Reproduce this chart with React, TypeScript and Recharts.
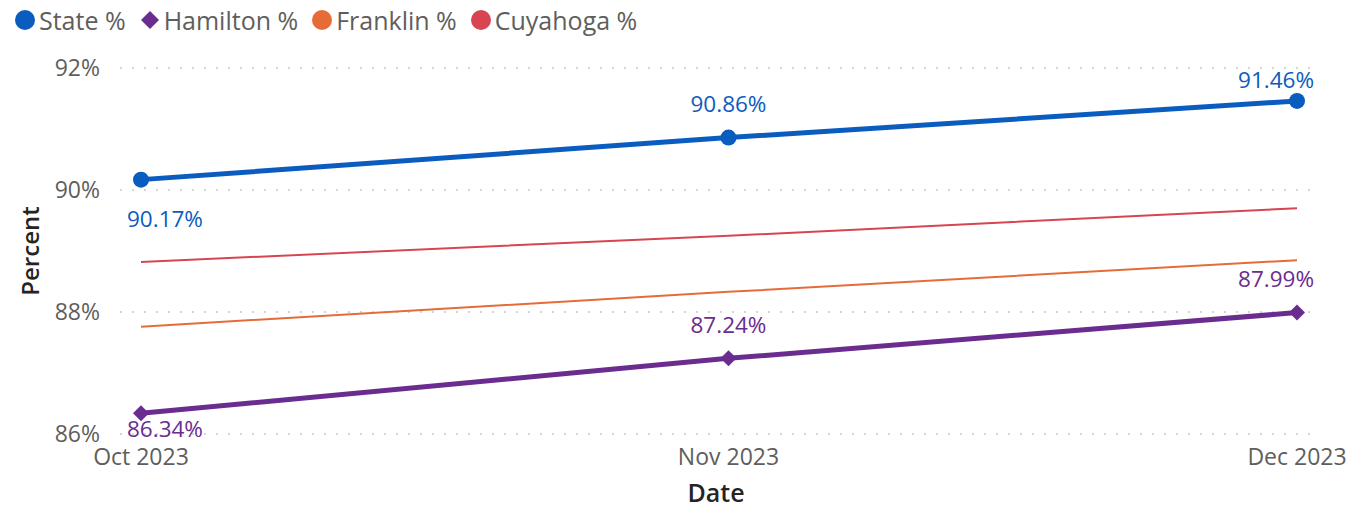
import React from "react";
import { LineChart, Line, XAxis, YAxis, CartesianGrid, LabelList } from "recharts";

const DAY = 86400000;
const dates = [Date.UTC(2023, 9, 1), Date.UTC(2023, 10, 1), Date.UTC(2023, 11, 1)];
const dateLabels = ["Oct 2023", "Nov 2023", "Dec 2023"];
const statePct = [90.17, 90.86, 91.46];
const hamiltonPct = [86.34, 87.24, 87.99];
const franklinPct = [87.76, 88.33, 88.85];
const cuyahogaPct = [88.82, 89.25, 89.7];
const yTicks = [86, 88, 90, 92];

const FONT = "'Segoe UI', 'Open Sans', sans-serif";
const STATE = "#0B5CBF";
const HAMILTON = "#6B2C8F";
const FRANKLIN = "#E66C37";
const CUYAHOGA = "#D64550";

const data = dates.map((d, i) => ({
  date: d,
  state: statePct[i],
  hamilton: hamiltonPct[i],
  franklin: franklinPct[i],
  cuyahoga: cuyahogaPct[i],
}));

const fmt = (v: number) => `${v.toFixed(2)}%`;

// label placement mimics Power BI: first point below, clamped to plot edges
const makeLabel = (color: string, firstDy: number) => (props: any) => {
  const { x, y, value, index } = props;
  const last = index === dates.length - 1;
  const anchor = index === 0 ? "start" : last ? "end" : "middle";
  const lx = index === 0 ? x - 14 : last ? x + 17 : x;
  const ly = index === 0 ? y + firstDy : Math.max(y - 33, 80);
  return (
    <text x={lx} y={ly} dy="0.35em" textAnchor={anchor} fill={color} fontSize={22.5} fontFamily={FONT}>
      {fmt(value)}
    </text>
  );
};

const Diamond = (props: any) => {
  const { cx, cy, fill, r = 8 } = props;
  if (cx == null || cy == null) return null;
  return <polygon points={`${cx},${cy - r} ${cx + r},${cy} ${cx},${cy + r} ${cx - r},${cy}`} fill={fill} />;
};

const legendItems = [
  { name: "State %", color: STATE, shape: "circle" },
  { name: "Hamilton %", color: HAMILTON, shape: "diamond" },
  { name: "Franklin %", color: FRANKLIN, shape: "circle" },
  { name: "Cuyahoga %", color: CUYAHOGA, shape: "circle" },
];

export default function App() {
  return (
    <div style={{ position: "absolute", left: 0, top: 0, width: 1350, height: 508, background: "#fff", fontFamily: FONT }}>
      <div style={{ position: "absolute", left: 13, top: 4, height: 32, display: "flex", alignItems: "center", fontSize: 25, color: "#605E5C" }}>
        {legendItems.map((it) => (
          <div key={it.name} style={{ display: "flex", alignItems: "center", marginRight: 12 }}>
            <svg width={24} height={24} style={{ marginRight: 2 }}>
              {it.shape === "circle" ? (
                <circle cx={12} cy={12} r={10} fill={it.color} />
              ) : (
                <polygon points="12,3 21,12 12,21 3,12" fill={it.color} />
              )}
            </svg>
            <span>{it.name}</span>
          </div>
        ))}
      </div>
      <LineChart width={1350} height={508} data={data} margin={{ top: 68, right: 38, bottom: 0, left: 0 }}>
        <CartesianGrid vertical={false} stroke="#c8c8c8" strokeDasharray="2 10" strokeWidth={1.5} />
        <XAxis
          dataKey="date"
          type="number"
          scale="time"
          domain={[dates[0] - 1.108 * DAY, dates[2] + 0.79 * DAY]}
          ticks={dates}
          tickFormatter={(v: number) => dateLabels[dates.indexOf(v)] ?? ""}
          axisLine={false}
          tickLine={false}
          height={74}
          tickMargin={9}
          tick={{ fill: "#605E5C", fontSize: 23, fontFamily: FONT }}
          label={{ value: "Date", position: "insideBottom", offset: 6, fill: "#252423", fontSize: 25, fontWeight: 600, fontFamily: FONT }}
        />
        <YAxis
          type="number"
          domain={[86, 92]}
          ticks={yTicks}
          tickFormatter={(v: number) => `${v}%`}
          axisLine={false}
          tickLine={false}
          width={120}
          tickMargin={14}
          tick={{ fill: "#605E5C", fontSize: 23, fontFamily: FONT }}
          label={{ value: "Percent", angle: -90, position: "insideLeft", offset: 30, fill: "#252423", fontSize: 24, fontWeight: 600, fontFamily: FONT, style: { textAnchor: "middle" } }}
        />
        <Line dataKey="cuyahoga" stroke={CUYAHOGA} strokeWidth={2} dot={false} activeDot={false} isAnimationActive={false} />
        <Line dataKey="franklin" stroke={FRANKLIN} strokeWidth={2} dot={false} activeDot={false} isAnimationActive={false} />
        <Line dataKey="hamilton" stroke={HAMILTON} strokeWidth={5} dot={<Diamond fill={HAMILTON} r={8} />} activeDot={false} isAnimationActive={false}>
          <LabelList dataKey="hamilton" content={makeLabel(HAMILTON, 16)} />
        </Line>
        <Line dataKey="state" stroke={STATE} strokeWidth={5} dot={{ r: 8, fill: STATE, stroke: STATE, strokeWidth: 0 }} activeDot={false} isAnimationActive={false}>
          <LabelList dataKey="state" content={makeLabel(STATE, 39)} />
        </Line>
      </LineChart>
    </div>
  );
}
